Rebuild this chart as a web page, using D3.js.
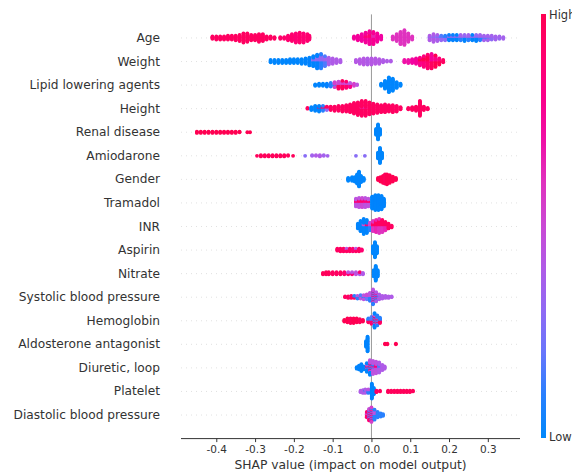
<!DOCTYPE html>
<html>
<head>
<meta charset="utf-8">
<script src="https://cdn.jsdelivr.net/npm/d3@7"></script>
<style>
  body { margin: 0; background: #fff; }
  text { font-family: "DejaVu Sans", sans-serif; }
</style>
</head>
<body>
<svg id="chart" width="572" height="473"></svg>
<script>
// feature names, top to bottom
const features = ["Age", "Weight", "Lipid lowering agents", "Height", "Renal disease", "Amiodarone",
  "Gender", "Tramadol", "INR", "Aspirin", "Nitrate", "Systolic blood pressure", "Hemoglobin",
  "Aldosterone antagonist", "Diuretic, loop", "Platelet", "Diastolic blood pressure"];

const xTicks = [-0.4, -0.3, -0.2, -0.1, 0.0, 0.1, 0.2, 0.3];

// each entry: [shap value, number of samples, feature value 0 (low) .. 1 (high)]
const age = [
  [-0.41,4,0.95],[-0.40,5,0.95],[-0.39,5,0.95],[-0.38,5,0.95],[-0.37,6,0.95],[-0.36,6,0.95],[-0.35,7,0.95],
  [-0.34,9,0.95],[-0.33,13,0.95],[-0.32,12,0.95],[-0.31,8,0.95],[-0.30,8,0.95],[-0.29,11,0.95],[-0.28,10,0.95],
  [-0.27,5,0.95],[-0.26,4,0.95],[-0.25,3,0.95],[-0.235,3,0.92],[-0.225,3,0.92],
  [-0.215,7,0.9],[-0.205,10,0.9],[-0.195,13,0.88],[-0.185,14,0.9],[-0.175,13,0.88],[-0.165,10,0.9],[-0.16,6,0.9],
  [-0.045,4,0.75],[-0.035,7,0.75],[-0.025,10,0.72],[-0.015,10,0.75],[-0.015,4,0.88],[-0.005,12,0.75],[-0.005,6,0.88],
  [0.005,12,0.78],[0.005,5,0.65],[0.015,12,0.75],[0.025,6,0.72],
  [0.055,5,0.6],[0.065,10,0.6],[0.075,17,0.6],[0.085,20,0.6],[0.095,12,0.6],[0.105,5,0.6],
  [0.15,5,0.4],[0.15,2,0.3],[0.16,8,0.4],[0.16,3,0.3],[0.17,6,0.38],[0.17,3,0.25],[0.18,4,0.32],[0.18,3,0.15],
  [0.19,4,0.3],[0.19,3,0.1],[0.20,5,0.08],[0.20,3,0.32],[0.21,5,0.08],[0.21,3,0.32],[0.22,5,0.05],[0.22,3,0.3],
  [0.23,4,0.1],[0.23,4,0.36],[0.24,5,0.05],[0.24,4,0.32],[0.25,4,0.1],[0.25,4,0.36],[0.26,5,0.05],[0.26,3,0.32],
  [0.27,5,0.05],[0.27,4,0.3],[0.28,4,0.1],[0.28,4,0.36],[0.29,3,0.15],[0.29,4,0.36],[0.30,3,0.2],[0.30,4,0.36],
  [0.31,3,0.3],[0.31,3,0.36],[0.32,2,0.3],[0.32,3,0.36],[0.33,2,0.32],[0.33,2,0.36],[0.34,3,0.36]
];
const weight = [
  [-0.26,4,0.03],[-0.25,5,0.03],[-0.24,5,0.03],[-0.23,5,0.03],[-0.22,5,0.03],[-0.21,6,0.03],[-0.20,6,0.03],
  [-0.19,6,0.03],[-0.18,7,0.03],[-0.17,8,0.05],[-0.16,11,0.05],[-0.15,10,0.05],[-0.15,4,0.3],[-0.14,13,0.08],
  [-0.14,6,0.3],[-0.13,12,0.1],[-0.13,8,0.32],[-0.12,8,0.15],[-0.12,6,0.35],[-0.11,10,0.38],[-0.10,8,0.4],
  [-0.09,6,0.4],[-0.08,4,0.4],
  [-0.04,4,0.42],[-0.03,7,0.42],[-0.02,9,0.42],[-0.01,9,0.4],[0.00,9,0.42],[0.01,8,0.42],[0.02,7,0.42],[0.03,4,0.4],
  [0.04,2,0.4],[0.05,2,0.4],
  [0.085,4,0.7],[0.095,5,0.7],[0.105,6,0.72],[0.115,8,0.75],[0.125,7,0.8],[0.125,4,1],[0.135,9,0.85],[0.135,6,1],
  [0.145,11,0.9],[0.145,8,1],[0.155,10,0.95],[0.155,10,0.75],[0.165,9,1],[0.165,7,0.8],[0.175,5,1],[0.175,4,0.85],
  [0.185,4,0.95]
];
const lipid = [
  [-0.145,3,0.05],[-0.135,4,0.05],[-0.125,4,0.05],[-0.115,5,0.08],[-0.105,6,0.1],[-0.095,3,0.1],[-0.095,5,0.55],
  [-0.085,6,0.95],[-0.085,5,0.5],[-0.075,7,0.95],[-0.075,5,0.55],[-0.065,6,0.9],[-0.065,4,0.5],[-0.055,4,0.8],
  [-0.055,3,0.45],[-0.045,4,0.55],[-0.037,2,0.45],
  [0.025,4,0.03],[0.035,12,0.03],[0.045,22,0.03],[0.055,18,0.03],[0.065,9,0.03],[0.075,4,0.03]
];
const height = [
  [-0.165,2,0.95],[-0.155,5,0.05],[-0.145,8,0.05],[-0.135,7,0.05],[-0.135,2,0.95],[-0.125,5,0.1],[-0.125,3,0.95],
  [-0.115,3,0.3],[-0.115,3,0.95],[-0.105,6,0.95],[-0.095,7,0.95],[-0.085,8,0.95],[-0.075,9,0.95],[-0.065,10,0.95],
  [-0.055,12,0.95],[-0.045,16,0.95],[-0.035,19,0.95],[-0.025,20,0.95],[-0.025,2,0.6],[-0.015,20,0.95],
  [-0.015,2,0.7],[-0.005,18,0.95],[0.005,15,0.95],[0.015,13,0.95],[0.025,11,0.95],[0.035,12,0.95],[0.045,10,0.95],
  [0.055,11,0.95],[0.065,9,0.95],[0.075,4,0.95],[0.095,3,0.95],[0.105,5,0.95],[0.115,7,0.95],[0.125,22,0.95],
  [0.135,6,0.95],[0.145,3,0.95]
];
const renal = [
  [-0.45,3,1],[-0.44,3,1],[-0.43,3,1],[-0.42,3,1],[-0.41,3,1],[-0.40,3,1],[-0.39,3,1],[-0.38,3,1],[-0.37,3,1],
  [-0.36,3,1],[-0.35,3,1],[-0.34,2,1],[-0.32,1,1],[-0.313,1,1],
  [0.012,10,0.02],[0.017,24,0.02],[0.022,10,0.02]
];
const amiodarone = [
  [-0.295,1,0.97],[-0.285,3,0.97],[-0.275,3,0.97],[-0.265,3,0.97],[-0.255,3,0.97],[-0.245,3,0.97],[-0.235,3,0.97],
  [-0.225,3,0.97],[-0.215,2,0.97],[-0.202,1,0.97],[-0.171,1,0.28],[-0.153,2,0.36],[-0.143,2,0.4],[-0.133,3,0.4],
  [-0.123,2,0.36],[-0.113,1,0.36],[-0.04,1,0.28],[-0.017,1,0.28],
  [0.017,10,0.02],[0.022,24,0.02],[0.027,10,0.02]
];
const gender = [
  [-0.06,5,0.03],[-0.05,6,0.03],[-0.043,7,0.03],[-0.037,14,0.03],[-0.032,22,0.03],[-0.027,10,0.03],[-0.02,5,0.03],
  [0.017,4,1],[0.023,7,1],[0.03,11,1],[0.035,14,0.97],[0.04,15,1],[0.047,12,1],[0.055,8,1],[0.063,4,1]
];
const tramadol = [
  [-0.04,8,0.45],[-0.04,4,0.85],[-0.032,9,0.45],[-0.032,5,0.9],[-0.024,9,0.5],[-0.024,5,0.9],[-0.016,9,0.45],
  [-0.016,5,0.85],[-0.008,8,0.45],[-0.008,4,0.9],
  [0.002,18,0.05],[0.01,22,0.05],[0.018,22,0.05],[0.026,20,0.05],[0.032,12,0.05]
];
const inr = [
  [-0.035,6,0.05],[-0.028,12,0.05],[-0.02,14,0.05],[-0.02,3,0.45],[-0.012,12,0.05],[-0.012,3,0.9],[-0.004,5,0.1],
  [-0.004,4,0.5],[0.004,8,0.6],[0.004,4,0.95],[0.012,8,0.65],[0.012,6,0.95],[0.02,9,0.6],[0.02,7,0.95],
  [0.028,7,0.6],[0.028,7,0.95],[0.036,5,0.65],[0.036,5,0.95],[0.044,6,0.95],[0.052,3,0.95]
];
const aspirin = [
  [-0.088,4,0.95],[-0.08,5,0.95],[-0.072,5,0.95],[-0.064,3,0.95],[-0.064,2,0.45],[-0.056,5,0.95],[-0.048,5,0.9],
  [-0.04,3,0.95],[-0.04,2,0.45],[-0.032,5,0.95],[-0.025,3,0.9],
  [0.004,12,0.03],[0.009,24,0.03],[0.014,12,0.03]
];
const nitrate = [
  [-0.125,3,0.97],[-0.117,4,0.97],[-0.11,4,0.97],[-0.1,4,0.95],[-0.09,4,0.95],[-0.08,4,0.95],[-0.07,4,0.9],
  [-0.06,2,0.9],[-0.06,2,0.45],[-0.05,2,0.85],[-0.05,2,0.45],[-0.04,4,0.45],[-0.03,2,0.4],[-0.03,2,0.9],[-0.022,3,0.4],
  [0.006,10,0.03],[0.011,22,0.03],[0.016,10,0.03]
];
const systolic = [
  [-0.068,2,0.95],[-0.06,3,0.95],[-0.052,3,0.95],[-0.052,1,0.4],[-0.044,2,0.95],[-0.044,2,0.1],[-0.036,3,0.1],
  [-0.036,2,0.45],[-0.028,3,0.15],[-0.028,2,0.45],[-0.028,1,0.95],[-0.02,3,0.1],[-0.02,4,0.45],[-0.012,4,0.2],
  [-0.012,4,0.5],[-0.004,6,0.1],[-0.004,6,0.45],[0.004,8,0.1],[0.004,8,0.45],[0.004,6,0.9],[0.012,6,0.4],
  [0.012,4,0.1],[0.012,4,0.85],[0.02,6,0.4],[0.02,2,0.1],[0.028,5,0.4],[0.036,4,0.4],[0.044,3,0.4],[0.052,2,0.4]
];
const hemoglobin = [
  [-0.07,3,1],[-0.062,6,1],[-0.054,7,0.97],[-0.046,7,1],[-0.038,6,1],[-0.03,5,0.97],[-0.022,3,1],
  [-0.008,3,0.95],[-0.008,3,0.1],[0.0,5,0.9],[0.0,5,0.15],[0.008,10,0.05],[0.008,6,0.45],[0.008,4,0.95],
  [0.015,7,0.1],[0.015,4,0.45],[0.015,3,0.95],[0.022,4,0.95],[0.022,4,0.1]
];
const aldosterone = [
  [-0.014,8,0.05],[-0.01,20,0.05],[0.035,2,1],[0.041,2,1],[0.063,2,1]
];
const diuretic = [
  [-0.038,3,0.05],[-0.032,6,0.05],[-0.026,10,0.05],[-0.02,5,0.05],[-0.012,6,0.05],[-0.012,4,0.45],[-0.012,2,0.95],
  [-0.004,8,0.05],[-0.004,8,0.45],[-0.004,4,0.95],[0.004,12,0.45],[0.004,4,0.1],[0.004,2,0.9],[0.012,12,0.45],
  [0.012,4,0.85],[0.02,10,0.4],[0.02,4,0.15],[0.028,8,0.4],[0.034,4,0.4]
];
const platelet = [
  [-0.028,3,0.4],[-0.022,5,0.4],[-0.016,4,0.4],[-0.016,2,0.1],[-0.008,3,0.1],[-0.008,3,0.45],[0.001,22,0.05],
  [0.006,10,0.05],[0.013,3,0.95],[0.022,2,0.95],[0.043,3,0.97],[0.051,3,0.97],[0.059,3,0.97],[0.067,3,0.97],
  [0.075,3,0.97],[0.083,3,0.97],[0.091,3,0.97],[0.099,3,0.97],[0.107,2,0.97]
];
const diastolic = [
  [-0.012,5,0.9],[-0.012,3,0.55],[-0.006,6,0.9],[-0.006,6,0.5],[-0.006,4,0.1],[0.0,8,0.55],[0.0,6,0.9],[0.0,6,0.1],
  [0.008,8,0.1],[0.008,6,0.45],[0.016,8,0.1],[0.024,5,0.1],[0.03,3,0.1]
];

const rows = [age, weight, lipid, height, renal, amiodarone, gender, tramadol, inr, aspirin, nitrate,
  systolic, hemoglobin, aldosterone, diuretic, platelet, diastolic];

const svg = d3.select("#chart");
const N = features.length;

const x = d3.scaleLinear().domain([-0.491, 0.383]).range([181, 520]);
// row 0 is the bottom feature, like matplotlib
const y = d3.scaleLinear().domain([-1, N]).range([438.6, 14.4]);
const rowStep = y(0) - y(1);

// shap red_blue colormap: lch ramp from blue to red
const color = d3.interpolateHcl(d3.hcl(266.9, 70, 54), d3.hcl(20.3, 90, 54));

// stack samples of each bin up/down like shap's beeswarm
function swarm(entries) {
  const bins = d3.group(entries, d => d[0]);
  const pts = [];
  let maxY = 0;
  for (const [v, list] of bins) {
    const left = list.map(d => d[1]);
    const cols = [];
    while (left.some(n => n > 0)) {
      list.forEach((d, i) => { if (left[i] > 0) { cols.push(d[2]); left[i]--; } });
    }
    cols.forEach((c, k) => {
      const off = Math.ceil(k / 2) * (k % 2 ? 1 : -1);
      maxY = Math.max(maxY, Math.abs(off));
      pts.push({ v: v, off: off, c: c });
    });
  }
  const s = 0.36 / (maxY + 1);
  pts.forEach(p => p.off *= s);
  return pts;
}

// grid lines
svg.append("g").selectAll("line")
  .data(features)
  .enter().append("line")
  .attr("x1", x.range()[0]).attr("x2", x.range()[1])
  .attr("y1", (d, i) => y(N - 1 - i)).attr("y2", (d, i) => y(N - 1 - i))
  .attr("stroke", "#cccccc").attr("stroke-width", 0.6)
  .attr("stroke-dasharray", "1,4");

// zero line
svg.append("line")
  .attr("x1", x(0)).attr("x2", x(0))
  .attr("y1", y(N)).attr("y2", y(-1))
  .attr("stroke", "#999999").attr("stroke-width", 1);

// dots
rows.forEach((entries, i) => {
  const pos = N - 1 - i;
  svg.append("g").selectAll("circle")
    .data(swarm(entries))
    .enter().append("circle")
    .attr("cx", d => x(d.v))
    .attr("cy", d => y(pos) - d.off * rowStep)
    .attr("r", 1.9)
    .attr("fill", d => color(d.c));
});

// feature labels
svg.append("g").selectAll("text")
  .data(features)
  .enter().append("text")
  .attr("x", 160)
  .attr("y", (d, i) => y(N - 1 - i))
  .attr("text-anchor", "end")
  .attr("dominant-baseline", "central")
  .attr("font-size", 12.2)
  .attr("fill", "#333333")
  .text(d => d);

// x axis
const xAxis = d3.axisBottom(x)
  .tickValues(xTicks)
  .tickSize(3.5)
  .tickPadding(3)
  .tickFormat(d => d3.format(".1f")(d).replace("−", "-"));
const ax = svg.append("g")
  .attr("transform", `translate(0,${y(-1)})`)
  .call(xAxis);
ax.select(".domain").attr("stroke", "#333333").attr("d", `M${x.range()[0]},0H${x.range()[1]}`);
ax.selectAll(".tick line").attr("stroke", "#333333");
ax.selectAll(".tick text")
  .attr("font-size", 10.5)
  .attr("fill", "#333333")
  .attr("font-family", "DejaVu Sans");

svg.append("text")
  .attr("x", (x.range()[0] + x.range()[1]) / 2)
  .attr("y", 465)
  .attr("text-anchor", "middle")
  .attr("dominant-baseline", "central")
  .attr("font-size", 12.3)
  .attr("fill", "#333333")
  .text("SHAP value (impact on model output)");

// colour bar
const grad = svg.append("defs").append("linearGradient")
  .attr("id", "cbar")
  .attr("x1", 0).attr("y1", 1).attr("x2", 0).attr("y2", 0);
d3.range(0, 1.0001, 0.1).forEach(t => {
  grad.append("stop").attr("offset", t).attr("stop-color", color(t));
});
svg.append("rect")
  .attr("x", 541).attr("y", 14)
  .attr("width", 5).attr("height", 424)
  .attr("fill", "url(#cbar)");

// the reference crops "High" at the right edge, kept that way
svg.append("text")
  .attr("x", 549).attr("y", 15)
  .attr("dominant-baseline", "central")
  .attr("font-size", 11.5)
  .attr("fill", "#333333")
  .text("High");
svg.append("text")
  .attr("x", 549).attr("y", 437)
  .attr("dominant-baseline", "central")
  .attr("font-size", 11.5)
  .attr("fill", "#333333")
  .text("Low");
</script>
</body>
</html>
